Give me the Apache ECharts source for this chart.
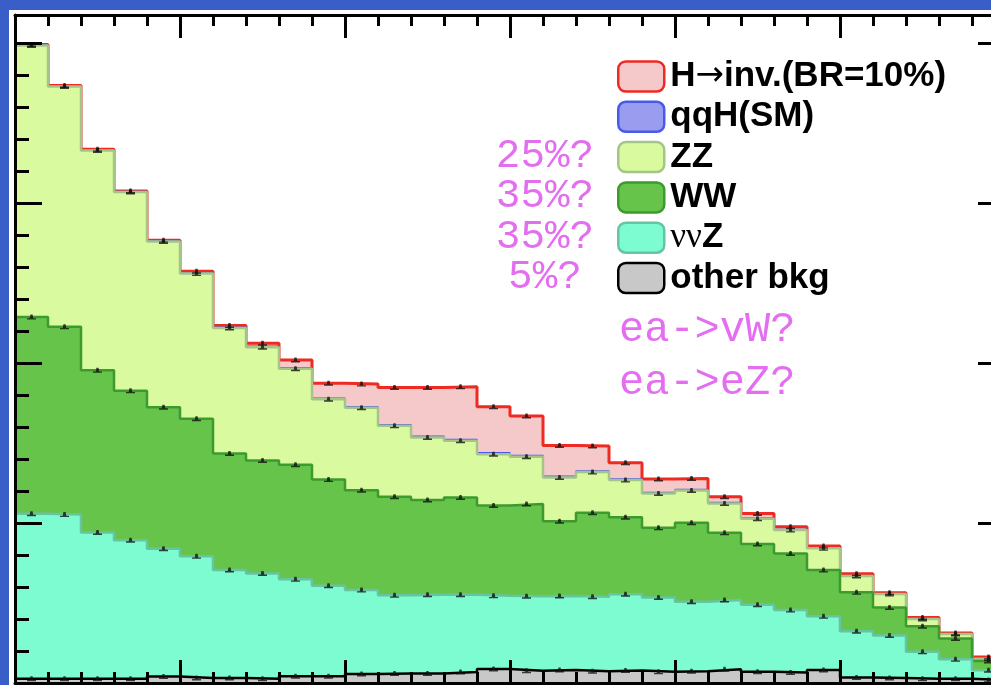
<!DOCTYPE html>
<html><head><meta charset="utf-8">
<script src="https://cdn.jsdelivr.net/npm/echarts@6/dist/echarts.min.js"></script>
<style>
html,body{margin:0;padding:0;background:#3a5ec8;width:991px;height:685px;overflow:hidden}
#c{position:absolute;left:9px;top:10px;width:1010px;height:675px;background:#fff}
</style></head><body><div id="c"></div>
<script>
// 30 bins, values (arbitrary units, major tick = 100)
const otherBkg = [2.6,2.6,2.6,2.6,4.0,3.1,3.1,2.7,4.2,4.2,5.6,6.0,6.0,6.9,8.8,7.7,8.1,7.4,7.8,7.0,7.4,8.6,7.0,6.6,8.1,3.5,3.1,2.6,2.6,1.8];
const nnZ = [103.3,102.7,91.5,86.7,80.0,76.1,67.6,65.8,60.6,56.6,52.5,48.8,49.2,48.3,45.7,46.6,46.3,46.5,47.7,46.5,43.4,43.3,42.0,39.0,33.6,28.9,26.6,16.9,12.2,6.2];
const WW = [122.9,117.4,101.4,93.4,88.5,86.1,72.8,70.7,71.7,66.4,62.5,61.7,59.2,60.8,56.5,57.7,46.8,52.6,48.2,43.5,49.4,42.0,37.9,35.4,28.9,24.3,17.5,16.0,13.1,5.8];
const ZZ = [169.9,150.3,137.5,124.3,103.5,90.7,78.5,70.8,60.0,50.3,51.5,44.3,39.1,35.5,32.1,29.5,27.3,25.4,23.2,21.5,20.2,18.4,15.8,14.6,13.6,10.2,8.4,4.5,2.8,1.4];
const qqH = [0.3,0.3,0.4,0.4,0.5,0.5,0.6,0.6,0.7,0.7,0.8,0.8,0.9,0.9,0.9,0.9,0.8,0.8,0.8,0.7,0.7,0.6,0.5,0.5,0.4,0.3,0.3,0.2,0.2,0.1];
const Hinv = [0.3,0.3,0.3,0.3,0.3,1.0,0.9,1.9,4.8,9.3,14.0,23.2,30.4,32.8,28.7,24.6,19.2,15.5,10.1,8.4,6.8,3.6,2.8,1.6,1.0,1.1,0.6,0.8,0.3,0.9];

const legendNames = ['H→inv.(BR=10%)','qqH(SM)','ZZ','WW','ννZ','other bkg'];
const percentLabels = ['25%?','35%?','35%?','5%?'];
const processLabels = ['ea->vW?','ea->eZ?'];

const NBINS = 30, YMAX = 417.7;

// stack order, bottom to top
const layers = [
  {name:'other bkg', data:otherBkg, fill:'#c8c8c8', line:'#000000', w:2.5, z:8},
  {name:'ννZ', data:nnZ, fill:'#7cfcd0', line:'#66c4a2', w:2.5, z:7},
  {name:'WW', data:WW, fill:'#66c44a', line:'#3c9a2e', w:2.5, z:6},
  {name:'ZZ', data:ZZ, fill:'#dafaa0', line:'#a4c488', w:2.5, z:5},
  {name:'qqH(SM)', data:qqH, fill:'#9a9cf0', line:'#4a5ae8', w:1.2, z:4},
  {name:'H→inv.(BR=10%)', data:Hinv, fill:'#f5c9c9', line:'#ee2a22', w:3, z:3}
];

// cumulative sums (THStack-like), each drawn as a filled step histogram
let run = new Array(NBINS).fill(0);
layers.forEach(l=>{ run = run.map((v,i)=>v+l.data[i]); l.cum = run.slice(); });

function stepData(arr){
  const d = arr.map((v,i)=>[i,v]);
  d.push([NBINS, arr[arr.length-1]]);
  return d;
}

const series = layers.map(l=>({
  name:l.name, type:'line', step:'end', data:stepData(l.cum),
  showSymbol:false, symbol:'none', z:l.z,
  lineStyle:{color:l.line, width:l.w}, itemStyle:{color:l.fill, borderColor:l.line},
  areaStyle:{color:l.fill, opacity:1, origin:'start'}, emphasis:{disabled:true}, silent:true
}));

// error-bar markers at each cumulative level, bin centres
const markData = [];
layers.forEach(l=>{ if (l.name !== 'qqH(SM)') l.cum.forEach((v,i)=>markData.push([i+0.5, v])); });
series.push({
  name:'err', type:'scatter', data:markData, z:20, silent:true,
  symbol:'path://M0,8 L0,6 L3,6 L3.8,1 L6.2,1 L7,6 L10,6 L10,8 Z',
  symbolSize:[9,5], itemStyle:{color:'#111'}
});

const black = {color:'#000', width:3};
function xAx(pos){
  return {type:'value', position:pos, min:0, max:NBINS, interval:5, z:40,
    axisLine:{show:true, onZero:false, lineStyle:black},
    axisTick:{show:true, inside:true, length:23, lineStyle:black},
    minorTick:{show:true, splitNumber:5, length:11, lineStyle:black},
    axisLabel:{show:false}, splitLine:{show:false}, minorSplitLine:{show:false}};
}
function yAx(pos, interval, len, line){
  return {type:'value', position:pos, min:0, max:YMAX, interval:interval, offset:0, z:40,
    axisLine:{show:line, onZero:false, lineStyle:black},
    axisTick:{show:true, inside:true, length:len, lineStyle:black},
    axisLabel:{show:false}, splitLine:{show:false}};
}

function legendFmt(n){
  if (n === 'ννZ') return '{nu|νν}{b|Z}';
  if (n.indexOf('→')>=0){ const p=n.split('→'); return '{b|'+p[0]+'}{ar|→}{b|'+p[1]+'}'; }
  return '{b|'+n+'}';
}

const legendData = legendNames.map(n=>{
  const l = layers.find(x=>x.name===n);
  return {name:n, icon:'roundRect', itemStyle:{color:l.fill, borderColor:l.line, borderWidth:2.5}};
});

const magenta = '#e36ff0';
const graphics = [];
percentLabels.forEach((t,i)=>{
  graphics.push({type:'text', x:536, y:146+40.5*i, z:50, style:{text:t, fill:magenta,
    font:'41px "Liberation Mono"', textAlign:'center', textVerticalAlign:'middle'}});
});
processLabels.forEach((t,i)=>{
  graphics.push({type:'text', x:610, y:320+53*i, z:50, style:{text:t, fill:magenta,
    font:'42px "Liberation Mono"', textAlign:'left', textVerticalAlign:'middle'}});
});

const chart = echarts.init(document.getElementById('c'), null, {renderer:'canvas'});
chart.setOption({
  animation:false,
  backgroundColor:'#ffffff',
  grid:{left:6, top:5, right:14, bottom:2, containLabel:false, outerBoundsMode:'none'},
  xAxis:[xAx('bottom'), xAx('top')],
  yAxis:[yAx('left',100,27,true), yAx('left',20,14,false), yAx('right',100,27,true), yAx('right',20,14,false)],
  legend:{orient:'vertical', left:608, top:49, padding:0, itemWidth:46, itemHeight:30, itemGap:5.3,
    selectedMode:false, data:legendData, formatter:legendFmt,
    textStyle:{padding:[0,0,0,1], lineHeight:30, rich:{
      b:{fontFamily:'Liberation Sans', fontWeight:'bold', fontSize:35, color:'#000', lineHeight:30},
      nu:{fontFamily:'Liberation Serif', fontWeight:'normal', fontSize:35, color:'#000', lineHeight:30},
      ar:{fontFamily:'DejaVu Sans', fontWeight:'normal', fontSize:34, color:'#000', lineHeight:30}
    }}},
  graphic:graphics,
  series:series
});
</script></body></html>
